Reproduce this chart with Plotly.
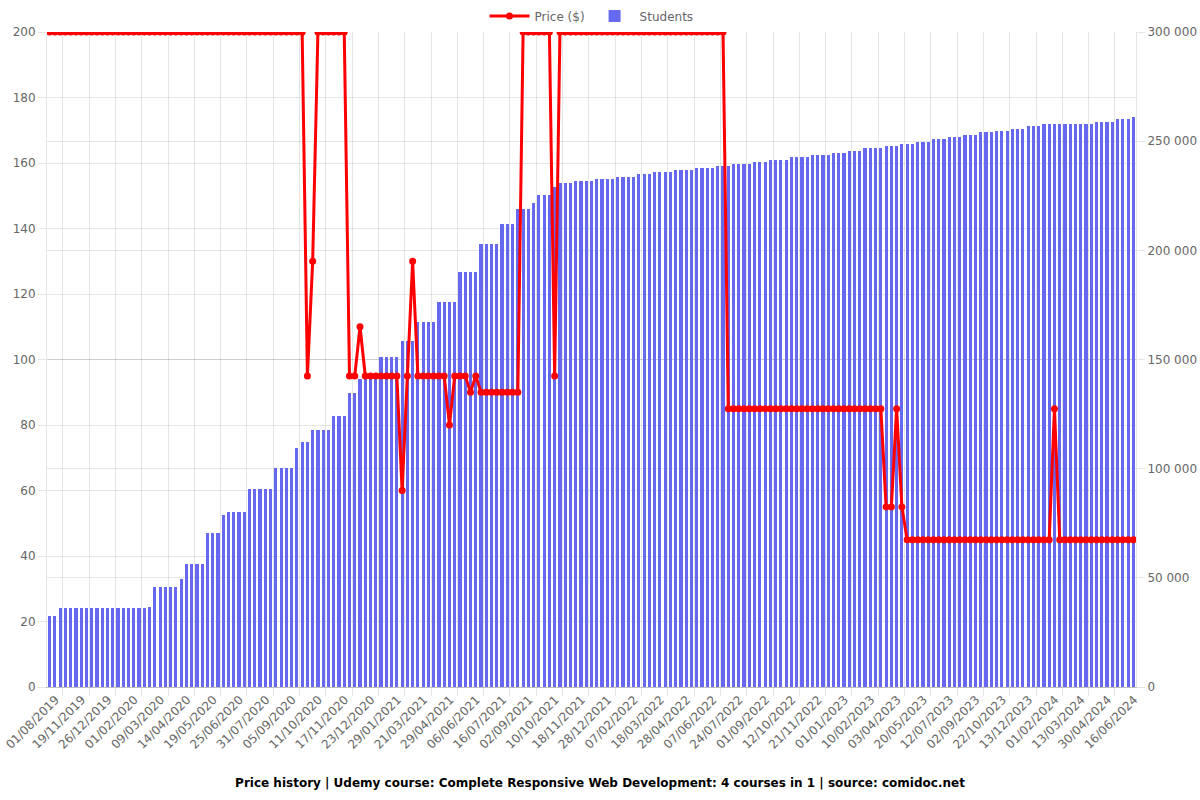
import plotly.graph_objects as go

tick_labels = ["01/08/2019", "19/11/2019", "26/12/2019", "01/02/2020", "09/03/2020", "14/04/2020",
               "19/05/2020", "25/06/2020", "31/07/2020", "05/09/2020", "11/10/2020", "17/11/2020",
               "23/12/2020", "29/01/2021", "21/03/2021", "29/04/2021", "06/06/2021", "16/07/2021",
               "02/09/2021", "10/10/2021", "18/11/2021", "28/12/2021", "07/02/2022", "18/03/2022",
               "28/04/2022", "07/06/2022", "24/07/2022", "01/09/2022", "12/10/2022", "21/11/2022",
               "01/01/2023", "10/02/2023", "03/04/2023", "20/05/2023", "12/07/2023", "02/09/2023",
               "22/10/2023", "13/12/2023", "01/02/2024", "13/03/2024", "30/04/2024", "16/06/2024"]

students = [
    32500, 32500, 36200, 36200, 36200, 36200, 36200, 36200, 36200, 36200,
    36200, 36200, 36200, 36200, 36200, 36200, 36200, 36200, 36200, 36600,
    45600, 45600, 45600, 45600, 45600, 49300, 56300, 56300, 56300, 56300,
    70400, 70400, 70400, 78800, 80200, 80200, 80200, 80200, 90700, 90700,
    90700, 90700, 90700, 100300, 100300, 100300, 100300, 109600, 112200, 112200,
    117800, 117800, 117800, 117800, 124100, 124100, 124100, 134800, 134800, 140900,
    140900, 140900, 140900, 151200, 151200, 151200, 151200, 158700, 158700, 158700,
    167000, 167000, 167000, 167000, 176200, 176200, 176200, 176200, 190200, 190200,
    190200, 190200, 202900, 202900, 202900, 202900, 212200, 212200, 212200, 218800,
    218800, 218800, 221800, 225500, 225500, 225500, 228900, 230700, 230700, 230700,
    231700, 231700, 231700, 231700, 232700, 232700, 232700, 232700, 233700, 233700,
    233700, 233700, 234900, 234900, 234900, 235900, 235900, 235900, 235900, 236700,
    236700, 236700, 236700, 237700, 237700, 237700, 237700, 238700, 238700, 238700,
    239700, 239700, 239700, 239700, 240600, 240600, 240600, 241600, 241600, 241600,
    241600, 242600, 242600, 242600, 242600, 243600, 243600, 243600, 243600, 244800,
    244800, 244800, 245600, 245600, 245600, 246700, 246700, 246700, 246700, 247900,
    247900, 247900, 248900, 248900, 248900, 249800, 249800, 249800, 251000, 251000,
    251000, 251800, 251800, 251800, 252800, 252800, 252800, 254000, 254000, 254000,
    254800, 254800, 254800, 255800, 255800, 255800, 257000, 257000, 257000, 257800,
    257800, 257800, 257800, 257800, 257800, 257800, 257800, 257800, 257800, 259000,
    259000, 259000, 259000, 260000, 260000, 260000, 261000,
]

price = [
    200, 200, 200, 200, 200, 200, 200, 200, 200, 200,
    200, 200, 200, 200, 200, 200, 200, 200, 200, 200,
    200, 200, 200, 200, 200, 200, 200, 200, 200, 200,
    200, 200, 200, 200, 200, 200, 200, 200, 200, 200,
    200, 200, 200, 200, 200, 200, 200, 200, 200, 95,
    130, 200, 200, 200, 200, 200, 200, 95, 95, 110,
    95, 95, 95, 95, 95, 95, 95, 60, 95, 130,
    95, 95, 95, 95, 95, 95, 80, 95, 95, 95,
    90, 95, 90, 90, 90, 90, 90, 90, 90, 90,
    200, 200, 200, 200, 200, 200, 95, 200, 200, 200,
    200, 200, 200, 200, 200, 200, 200, 200, 200, 200,
    200, 200, 200, 200, 200, 200, 200, 200, 200, 200,
    200, 200, 200, 200, 200, 200, 200, 200, 200, 85,
    85, 85, 85, 85, 85, 85, 85, 85, 85, 85,
    85, 85, 85, 85, 85, 85, 85, 85, 85, 85,
    85, 85, 85, 85, 85, 85, 85, 85, 85, 55,
    55, 85, 55, 45, 45, 45, 45, 45, 45, 45,
    45, 45, 45, 45, 45, 45, 45, 45, 45, 45,
    45, 45, 45, 45, 45, 45, 45, 45, 45, 45,
    45, 85, 45, 45, 45, 45, 45, 45, 45, 45,
    45, 45, 45, 45, 45, 45, 45,
]

x = list(range(len(students)))
tick_vals = x[::5][:len(tick_labels)]
grid_vals = [v - 2.5 for v in tick_vals[1:]]

GRID = "rgba(0,0,0,0.1)"
FONT = "DejaVu Sans"

fig = go.Figure()
fig.add_trace(go.Bar(
    x=x, y=students, name="Students", yaxis="y",
    marker=dict(color="rgb(102,104,240)", line=dict(width=0)),
    width=0.6, legendrank=2,
))
fig.add_trace(go.Scatter(
    x=x, y=price, name="Price ($)", yaxis="y2", mode="lines+markers",
    line=dict(color="#ff0000", width=3),
    marker=dict(color="#ff0000", size=7),
    legendrank=1,
))

fig.update_layout(
    width=1200, height=800,
    margin=dict(l=47, r=64, t=32, b=113, autoexpand=False),
    plot_bgcolor="white", paper_bgcolor="white",
    font=dict(family=FONT, size=12, color="#666"),
    separators=". ",
    bargap=0,
    showlegend=True,
    legend=dict(orientation="h", x=0.5, xanchor="center", y=0.98, yref="container",
                yanchor="middle", font=dict(size=12, color="#666"), itemwidth=40),
    title=dict(text="<b>Price history | Udemy course: Complete Responsive Web Development: 4 courses in 1 | source: comidoc.net</b>",
               x=0.5, xanchor="center", y=0.021, yref="container", yanchor="middle",
               font=dict(family=FONT, size=12, color="#000")),
    xaxis=dict(
        range=[-0.5, len(x) - 0.5], tickmode="array", tickvals=tick_vals, ticktext=tick_labels,
        tickangle=-45, showgrid=False, ticks="", zeroline=False, automargin=False,
        ticklabeloverflow="allow", ticklabelshift=6,
        showline=True, linecolor="rgba(0,0,0,0.25)", linewidth=1,
        tickfont=dict(size=12, color="#666"),
        minor=dict(tickmode="array", tickvals=grid_vals, showgrid=True, gridcolor=GRID,
                   ticks="outside", ticklen=8, tickcolor=GRID),
    ),
    yaxis=dict(
        range=[0, 300000], tickmode="linear", tick0=0, dtick=50000, tickformat=",d",
        side="right", showgrid=True, gridcolor=GRID, zeroline=False, automargin=False,
        ticklabeloverflow="allow",
        ticks="outside", ticklen=8, tickcolor=GRID,
        showline=True, linecolor=GRID,
        tickfont=dict(size=12, color="#666"),
    ),
    yaxis2=dict(
        range=[0, 200], tickmode="linear", tick0=0, dtick=20,
        overlaying="y", side="left", showgrid=True, gridcolor=GRID, zeroline=False,
        automargin=False, ticklabeloverflow="allow",
        ticks="outside", ticklen=8, tickcolor=GRID,
        showline=True, linecolor=GRID,
        tickfont=dict(size=12, color="#666"),
    ),
)

fig.write_html(
    "out.html",
    config={"displayModeBar": False},
    post_script="document.body.style.margin='0';document.body.style.overflow='hidden';",
)
